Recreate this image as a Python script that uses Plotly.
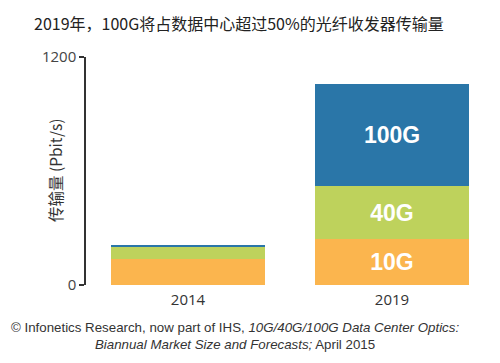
import plotly.graph_objects as go

years = ["2014", "2019"]
g10 = [139, 242]
g40 = [66, 279]
g100 = [8, 535]
labels10 = ["", "10G"]
labels40 = ["", "40G"]
labels100 = ["", "100G"]
series_names = ["10G", "40G", "100G"]
colors = ["#FBB54E", "#BED25C", "#2A76A8"]

L, R, T, B = 86, 6, 57, 78
PW, PH = 500 - L - R, 363 - T - B

fig = go.Figure()
for name, vals, labs, col in zip(series_names, [g10, g40, g100],
                                 [labels10, labels40, labels100], colors):
    fig.add_trace(go.Bar(
        x=years, y=vals, name=name, text=labs,
        marker=dict(color=col, line=dict(width=0)),
        textposition="inside", insidetextanchor="middle",
        textangle=0, constraintext="none",
        textfont=dict(family="Liberation Sans, Arial", size=23, color="white", weight="bold"),
        hoverinfo="skip",
    ))

fig.update_layout(
    barmode="stack",
    bargap=0.245,
    width=500, height=363,
    margin=dict(l=L, r=R, t=T, b=B, autoexpand=False),
    paper_bgcolor="white", plot_bgcolor="white",
    showlegend=False,
    title=dict(
        text="2019年，100G将占数据中心超过50%的光纤收发器传输量",
        font=dict(family="Noto Sans CJK SC", size=16, color="#222222"),
        x=34/500, xanchor="left", xref="container",
        y=1-24/363, yanchor="middle", yref="container",
    ),
    xaxis=dict(
        type="category", showline=False, ticks="", showgrid=False, automargin=False,
        tickfont=dict(family="Open Sans", size=15, color="#333333"),
        ticklabelstandoff=4,
    ),
    yaxis=dict(
        range=[0, 1200], tickvals=[0, 1200], ticktext=["0", "1200"],
        showline=True, linecolor="#333333", linewidth=1.5, automargin=False,
        ticks="outside", ticklen=5, tickwidth=1.5, tickcolor="#333333",
        showgrid=False, zeroline=False,
        tickfont=dict(family="Open Sans", size=15, color="#444444"),
    ),
    annotations=[
        dict(
            text="传输量 (Pbit/s)", textangle=-90,
            xref="paper", yref="paper", x=(55 - L) / PW, y=0.5,
            xanchor="center", yanchor="middle", showarrow=False,
            font=dict(family="Noto Sans CJK SC", size=15.5, color="#333333"),
        ),
        dict(
            text="© Infonetics Research, now part of IHS, <i>10G/40G/100G Data Center Optics:</i><br>"
                 "<i>Biannual Market Size and Forecasts;</i> April 2015",
            xref="paper", yref="paper", x=(235 - L) / PW, y=-(318 - (363 - B)) / PH,
            xanchor="center", yanchor="top", align="center", showarrow=False,
            font=dict(family="Liberation Sans, Arial", size=13.3, color="#333333"),
        ),
    ],
)

fig.write_html("out.html", config={"displayModeBar": False},
               post_script="document.body.style.margin='0';")
